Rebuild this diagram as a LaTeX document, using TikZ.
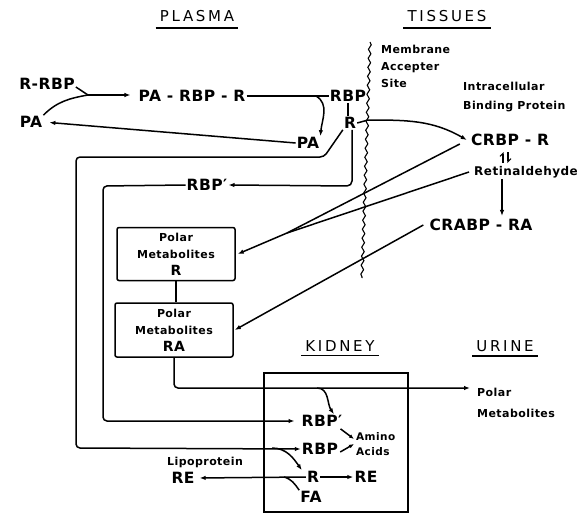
\documentclass[tikz,border=0pt]{standalone}
\usepackage{fontspec}
\setmainfont{DejaVu Sans}
\newfontfamily\bigf[LetterSpace=3]{DejaVu Sans}
\newfontfamily\smf[LetterSpace=4]{DejaVu Sans}
\newfontfamily\ttlf[LetterSpace=18]{DejaVu Sans}
\usetikzlibrary{arrows.meta,decorations.pathmorphing,calc}
\begin{document}
\begin{tikzpicture}[x=1pt,y=-1pt,
  big/.style={font=\bigf\bfseries\fontsize{15.5}{15.5}\selectfont, inner sep=1pt},
  small/.style={font=\smf\bfseries\fontsize{11}{17}\selectfont, align=left, inner sep=1pt},
  ttl/.style={font=\ttlf\fontsize{15}{15}\selectfont, inner sep=1pt},
  ln/.style={line width=1.5pt},
  arr/.style={ln,-{Latex[length=6pt,width=4.5pt]}},
  sarr/.style={ln,-{Latex[length=5pt,width=4pt]}},
  pmbox/.style={draw, line width=1.5pt, rounded corners=2pt, minimum width=118pt, minimum height=53pt, inner sep=0pt, align=center, font=\smf\bfseries\fontsize{11}{17}\selectfont}
]
\useasboundingbox (0,0) rectangle (577,514);

% titles
\node[ttl] (plasma) at (197,16) {PLASMA};
\draw[ln] ([xshift=-3pt,yshift=-5pt]plasma.south west) -- ([xshift=3pt,yshift=-5pt]plasma.south east);
\node[ttl] (tissues) at (447,16) {TISSUES};
\draw[ln] ([xshift=-3pt,yshift=-5pt]tissues.south west) -- ([xshift=3pt,yshift=-5pt]tissues.south east);
\node[ttl] (kidney) at (340,346) {KIDNEY};
\draw[ln] ([xshift=-3pt,yshift=-3pt]kidney.south west) -- ([xshift=3pt,yshift=-3pt]kidney.south east);
\node[ttl] (urine) at (505,346) {URINE};
\draw[ln] ([xshift=-3pt,yshift=-3pt]urine.south west) -- ([xshift=3pt,yshift=-3pt]urine.south east);

% membrane
\draw[line width=1.1pt, decorate, decoration={snake, amplitude=1.3pt, segment length=9pt}] (370,42) -- (362,278);
\coordinate (m1) at (368,120);

% plasma nodes
\node[big] (rrbp) at (47,84) {R-RBP};
\node[big] (paL) at (31,122) {PA};
\coordinate (J) at (88,95);
\node[big] (parbpr) at (192,96) {PA - RBP - R};
\node[big] (rbp) at (348,96) {RBP};
\node[big] (rT) at (350,123) {R};
\node[big] (paR) at (308,143) {PA};
\node[big] (rbpp) at (207,185) {RBP′};
\coordinate (c1) at (316,96);

% tissue nodes
\node[small, anchor=north west] (mem) at (380,44) {Membrane\\Accepter\\Site};
\node[small, anchor=west, font=\smf\bfseries\fontsize{11}{19}\selectfont] (ibp) at (462,97.5) {Intracellular\\Binding Protein};
\node[big] (crbpr) at (510,140) {CRBP - R};
\node[big, font=\smf\bfseries\fontsize{12}{12}\selectfont] (retin) at (526,172) {Retinaldehyde};
\node[big] (crabpra) at (481,225) {CRABP - RA};

% polar metabolite boxes
\node[pmbox] (pmR) at (176,254) {Polar\\Metabolites\\{\bigf\fontsize{14}{14}\selectfont R}};
\node[pmbox, minimum height=54pt] (pmRA) at (174,330) {Polar\\Metabolites\\{\bigf\fontsize{14}{14}\selectfont RA}};
\coordinate (J2) at (287,233);

% kidney
\node[draw, line width=1.5pt, minimum width=144pt, minimum height=139pt, inner sep=0pt] (kidbox) at (336,442.5) {};
\node[small, anchor=west, font=\smf\bfseries\fontsize{11}{21}\selectfont] (purine) at (476,402.5) {Polar\\Metabolites};
\node[big] (rbppK) at (322,421) {RBP′};
\node[big] (rbpK) at (320,449) {RBP};
\node[small, anchor=west, font=\smf\bfseries\fontsize{10.5}{15}\selectfont] (amino) at (355,444) {Amino\\Acids};
\node[big] (rK) at (313,477) {R};
\node[big] (reK) at (366,477) {RE};
\node[big] (fa) at (311,497) {FA};
\node[small] (lipo) at (205,462) {Lipoprotein};
\node[big] (reL) at (183,478) {RE};
\coordinate (c2) at (317,388);
\coordinate (c3) at (272,448);
\coordinate (c4) at (284,477);

% plasma connectors
\draw[ln] ([yshift=-3pt]rrbp.east) -- (J);
\draw[ln] (paL.north east) to[out=45,in=190] (J);
\draw[arr, shorten >=7pt] (J) -- (J -| parbpr.west);
\draw[ln] (parbpr.east) -- (rbp.west);
\draw[arr] (c1) to[out=-30,in=85] (paR.north east);
\draw[arr, shorten >=6pt] (paR.west) -- (paL.east);
\draw[ln] (rbp.south) -- (rbp.south |- rT.north);
\draw[arr, rounded corners=4pt] (rT.south west) -- (324,157) -- (76,157) -- (76,448) -- (rbpK.west);
\draw[arr, rounded corners=5pt] ([xshift=2pt]rT.south) -- (352,186) -- (rbpp.east);
\draw[arr, rounded corners=4pt, shorten >=6pt] (rbpp.west) -- (103,186) -- (103,421) -- (rbppK.west);

% tissue connectors
\draw[arr] (rT.east) -- (m1) to[out=0,in=150] ([xshift=-3pt]crbpr.west);
\draw[ln] ([xshift=-10pt,yshift=-4pt]crbpr.west) -- (J2);
\draw[ln] ([xshift=-4pt]retin.west) -- (J2);
\draw[arr] (J2) -- ([xshift=2pt]pmR.east);
\draw[arr] ([xshift=-5pt]crabpra.west) -- ([xshift=1pt]pmRA.east);
\draw[ln] (pmR.south) -- (pmR.south |- pmRA.north);
\draw[arr] ([xshift=-24pt]retin.south) -- ([xshift=-24pt,yshift=2pt]retin.south |- crabpra.north);
\draw[line width=1.1pt, -{Straight Barb[left,length=3pt]}] (503,163) -- (503,152);
\draw[line width=1.1pt, -{Straight Barb[left,length=3pt]}] (508,152) -- (508,163);

% kidney connectors
\draw[arr, rounded corners=4pt, shorten >=6pt] (pmRA.south) |- (c2) -- (c2 -| purine.west);
\draw[arr] (c2) to[out=0,in=125] ([xshift=12pt]rbppK.north);
\draw[sarr] ([xshift=-3pt,yshift=-1pt]rbppK.south east) -- ([xshift=-1pt,yshift=5pt]amino.west);
\draw[sarr] ([xshift=1pt,yshift=-3pt]rbpK.east) -- ([xshift=-1pt]amino.west);
\draw[arr] (c3) to[out=0,in=125] ([xshift=-4pt]rK.north west);
\draw[arr] (rK.east) -- (reK.west);
\draw[arr, shorten >=4pt] (rK.west) -- (reL.east);
\draw[ln] (c4) to[out=-15,in=125] (fa.north west);
\end{tikzpicture}
\end{document}
